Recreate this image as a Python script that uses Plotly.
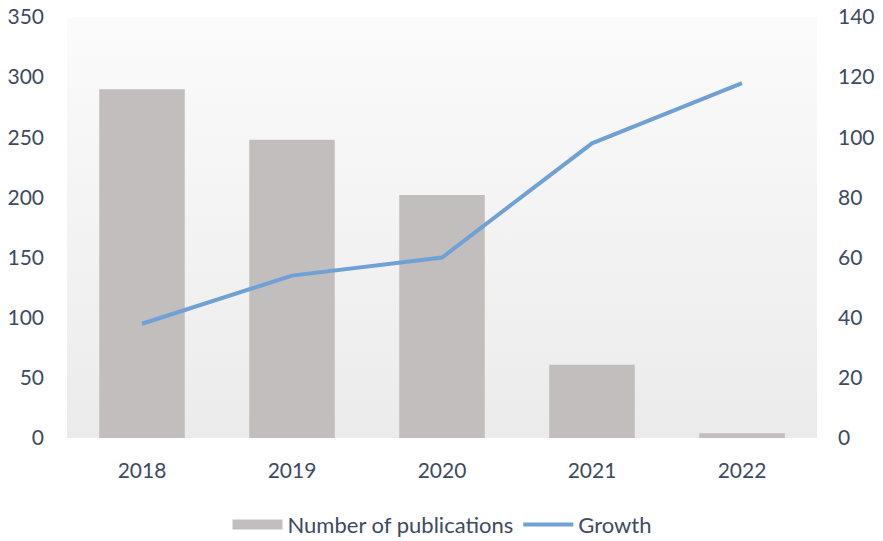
import plotly.graph_objects as go

years = ["2018", "2019", "2020", "2021", "2022"]
publications = [290, 248, 202, 61, 4]
growth = [38, 54, 60, 98, 118]
left_ticks = [0, 50, 100, 150, 200, 250, 300, 350]
right_ticks = [0, 20, 40, 60, 80, 100, 120, 140]

FONT = "Lato, 'Open Sans', sans-serif"
TXT = "#3e4a61"
BAR = "#c1bebd"

pos = list(range(len(years)))

fig = go.Figure()

# plot-area gradient background (base subplot, drawn first)
fig.add_trace(go.Scatter(
    x=[-0.5, 4.5, 4.5, -0.5, -0.5], y=[0, 0, 1, 1, 0],
    mode="lines", line=dict(width=0), fill="toself",
    fillgradient=dict(type="vertical",
                      colorscale=[[0, "#ebebeb"], [1, "#fbfbfc"]]),
    hoverinfo="skip", showlegend=False, yaxis="y",
))

fig.add_trace(go.Bar(
    x=pos, y=publications, name="Number of publications", yaxis="y2",
    marker=dict(color=BAR, line=dict(width=0)),
    width=0.57, legendgroup="pub", showlegend=False,
))
# legend swatch for the bars (wide box like the reference)
fig.add_trace(go.Scatter(
    x=[None], y=[None], name="Number of publications", yaxis="y2",
    mode="lines", line=dict(color=BAR, width=13), legendgroup="pub",
))

fig.add_trace(go.Scatter(
    x=pos, y=growth, name="Growth", yaxis="y3",
    mode="lines", line=dict(color="#6fa1d6", width=4),
))

fig.update_layout(
    width=883, height=541,
    margin=dict(l=67, r=66, t=17, b=103),
    paper_bgcolor="white", plot_bgcolor="white",
    font=dict(family=FONT, size=21, color=TXT),
    xaxis=dict(range=[-0.5, 4.5], tickvals=pos, ticktext=years,
               showgrid=False, showline=False, zeroline=False, ticks="",
               ticklabelstandoff=18, automargin=False),
    yaxis=dict(range=[0, 1], visible=False, automargin=False),
    yaxis2=dict(range=[0, 350], tickvals=left_ticks, overlaying="y",
                side="left", showgrid=False, showline=False,
                zeroline=False, ticks="", ticklabelstandoff=22,
                automargin=False),
    yaxis3=dict(range=[0, 140], tickvals=right_ticks, overlaying="y",
                side="right", showgrid=False, showline=False,
                zeroline=False, ticks="", ticklabelstandoff=20,
                automargin=False),
    legend=dict(orientation="h", x=0.5, xanchor="center",
                yref="container", y=0.03, yanchor="middle",
                font=dict(size=22, color=TXT), itemwidth=50),
    showlegend=True,
)

fig.write_html("out.html")
